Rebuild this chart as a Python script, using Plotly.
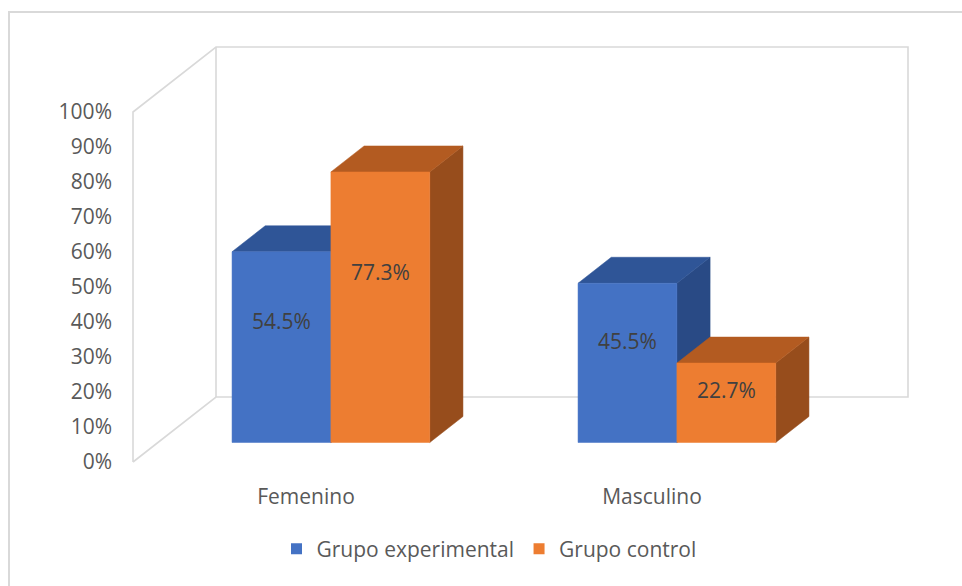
import plotly.graph_objects as go

# ---------------- data ----------------
categories = ["Femenino", "Masculino"]
series_names = ["Grupo experimental", "Grupo control"]
grupo_experimental = [0.545, 0.455]
grupo_control = [0.773, 0.227]
y_tick_values = [0.0, 0.1, 0.2, 0.3, 0.4, 0.5, 0.6, 0.7, 0.8, 0.9, 1.0]
y_tick_labels = ["0%", "10%", "20%", "30%", "40%", "50%", "60%", "70%", "80%", "90%", "100%"]

# ---------------- style / geometry constants ----------------
W, H = 962, 586
PX_CAT = 346.0       # pixels per category slot (front plane)
PX_VAL = 350.0       # pixels per 100%
ORIGIN = (133, 462)  # pixel of front-left floor corner
DEPTH_PX = (83, 65)  # oblique depth vector in pixels
PAD = 20
FONT_SIZE = 21

dx = DEPTH_PX[0] / PX_CAT
dy = DEPTH_PX[1] / PX_VAL
n_cat = len(categories)
n_ser = 2
gap_width = 1.5
bar_w = 1.0 / (n_ser + gap_width)
d0, d1 = 0.3, 0.7   # bar depth extent (fraction of full depth)
label_frac = 0.62

ml = ORIGIN[0] - PAD
mb = H - ORIGIN[1] - PAD
right_px = ORIGIN[0] + n_cat * PX_CAT + DEPTH_PX[0] + PAD
top_px = ORIGIN[1] - PX_VAL - DEPTH_PX[1] - PAD
mr = W - right_px
mt = top_px
pw = W - ml - mr
ph = H - mt - mb

front_colors = ["#4472C4", "#ED7D31"]
top_colors = ["#2F5597", "#B35B21"]
side_colors = ["#294A85", "#974D1C"]
wall_color = "#D9D9D9"

fig = go.Figure()

# ---------------- walls (outline) ----------------
wall_x = [0, 0, dx, n_cat + dx, n_cat + dx, dx, 0, None, dx, dx]
wall_y = [0, 1, 1 + dy, 1 + dy, dy, dy, 0, None, dy, 1 + dy]
fig.add_trace(go.Scatter(x=wall_x, y=wall_y, mode="lines",
                         line=dict(color=wall_color, width=1.6),
                         hoverinfo="skip", showlegend=False))

# ---------------- 3D bars ----------------
series_vals = [grupo_experimental, grupo_control]
labels_x, labels_y, labels_t = [], [], []
for c in range(n_cat):
    for s in range(n_ser):
        v = series_vals[s][c]
        xl = c + gap_width / 2 * bar_w + s * bar_w + d0 * dx
        xr = xl + bar_w
        yb = d0 * dy
        yt = yb + v
        ddx = (d1 - d0) * dx
        ddy = (d1 - d0) * dy
        # side face
        fig.add_trace(go.Scatter(
            x=[xr, xr, xr + ddx, xr + ddx, xr], y=[yb, yt, yt + ddy, yb + ddy, yb],
            fill="toself", fillcolor=side_colors[s], mode="lines",
            line=dict(color=side_colors[s], width=0.5), hoverinfo="skip", showlegend=False))
        # top face
        fig.add_trace(go.Scatter(
            x=[xl, xr, xr + ddx, xl + ddx, xl], y=[yt, yt, yt + ddy, yt + ddy, yt],
            fill="toself", fillcolor=top_colors[s], mode="lines",
            line=dict(color=top_colors[s], width=0.5), hoverinfo="skip", showlegend=False))
        # front face
        fig.add_trace(go.Scatter(
            x=[xl, xr, xr, xl, xl], y=[yb, yb, yt, yt, yb],
            fill="toself", fillcolor=front_colors[s], mode="lines",
            line=dict(color=front_colors[s], width=0.5), hoverinfo="skip", showlegend=False))
        labels_x.append((xl + xr) / 2)
        labels_y.append(yb + label_frac * v)
        labels_t.append(f"{v * 100:.1f}%")

fig.add_trace(go.Scatter(x=labels_x, y=labels_y, text=labels_t, mode="text",
                         textfont=dict(family="Open Sans", size=FONT_SIZE, color="#404040"),
                         hoverinfo="skip", showlegend=False))

# legend entries
for s in range(n_ser):
    fig.add_trace(go.Scatter(x=[None], y=[None], mode="markers", name=series_names[s],
                             marker=dict(symbol="square", size=11, color=front_colors[s])))

# outer border
fig.add_shape(type="rect", xref="paper", yref="paper", layer="below",
              x0=(9 - ml) / pw, x1=(W + 10 - ml) / pw,
              y0=-(H + 10 - (H - mb)) / ph, y1=((H - mb) - 12) / ph,
              line=dict(color=wall_color, width=2))

fig.update_layout(
    width=W, height=H,
    margin=dict(l=ml, r=mr, t=mt, b=mb, pad=0),
    paper_bgcolor="white", plot_bgcolor="white",
    font=dict(family="Open Sans", size=FONT_SIZE, color="#595959"),
    xaxis=dict(range=[-PAD / PX_CAT, n_cat + dx + PAD / PX_CAT],
               tickvals=[i + 0.5 for i in range(n_cat)], ticktext=categories,
               showgrid=False, zeroline=False, showline=False, ticks="",
               tickfont=dict(size=FONT_SIZE, color="#595959"), fixedrange=True),
    yaxis=dict(range=[-PAD / PX_VAL, 1 + dy + PAD / PX_VAL],
               tickvals=y_tick_values, ticktext=y_tick_labels,
               showgrid=False, zeroline=False, showline=False, ticks="",
               tickfont=dict(size=FONT_SIZE, color="#595959"), fixedrange=True),
    legend=dict(orientation="h", xref="container", yref="container",
                x=489 / W, xanchor="center", y=1 - 549 / H, yanchor="middle",
                font=dict(size=FONT_SIZE, color="#595959"), itemwidth=30),
    showlegend=True,
)

fig.write_html("out.html", post_script="document.body.style.margin='0';",
               config={"displayModeBar": False})
